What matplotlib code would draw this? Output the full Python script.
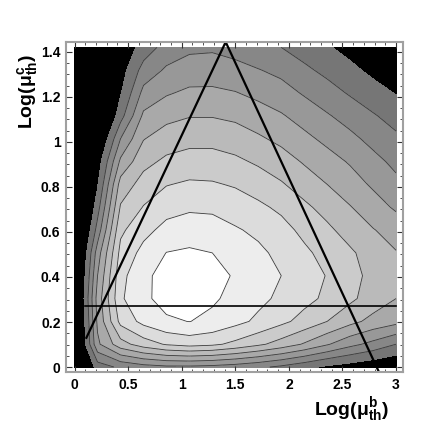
import matplotlib
matplotlib.use('Agg')
import matplotlib.pyplot as plt
import numpy as np
from matplotlib.ticker import MultipleLocator, FuncFormatter

plt.rcParams['font.family'] = ['Liberation Sans', 'DejaVu Sans']
plt.rcParams['mathtext.fontset'] = 'custom'
plt.rcParams['mathtext.rm'] = 'Liberation Sans:bold'
plt.rcParams['mathtext.it'] = 'Liberation Sans:bold'
plt.rcParams['mathtext.bf'] = 'Liberation Sans:bold'

# sampling grid (15 x 15, like the original contour plot)
log_mub = np.linspace(0, 3, 15)
log_muc = np.linspace(0, 1.42, 15)

# contour level index, one row per Log(mu_c) value
level_grid = np.array([
    [-3.0, 0.5, 1.2, 1.6, 1.8, 1.8, 1.7, 1.5, 1.2, 0.8, 0.3, -0.2, -0.5, -0.8, -1.1],
    [-2.5, 2.8, 4.6, 5.5, 6.1, 6.37, 6.2, 5.75, 5.2, 4.6, 3.9, 3.1, 2.3, 1.7, 1.0],
    [-2.6, 3.2, 6.3, 7.3, 7.85, 8.02, 7.75, 7.3, 6.8, 6.25, 5.65, 5.0, 4.3, 3.7, 3.3],
    [-2.35, 3.4, 6.85, 7.8, 8.35, 8.5, 8.15, 7.7, 7.25, 6.8, 6.3, 5.8, 5.2, 4.55, 4.0],
    [-2.5, 3.0, 6.7, 7.75, 8.4, 8.5, 8.35, 7.9, 7.45, 7.0, 6.5, 5.95, 5.35, 4.7, 4.15],
    [-2.7, 2.5, 6.3, 7.3, 8.02, 8.15, 8.0, 7.55, 7.2, 6.75, 6.2, 5.65, 5.15, 4.55, 4.05],
    [-3.0, 1.4, 5.8, 6.7, 7.3, 7.5, 7.45, 7.1, 6.8, 6.35, 5.75, 5.2, 4.6, 4.05, 3.6],
    [-3.5, 0.6, 5.1, 6.05, 6.65, 6.85, 6.8, 6.55, 6.2, 5.8, 5.2, 4.65, 4.05, 3.45, 2.85],
    [-4.0, -0.1, 4.4, 5.4, 5.95, 6.15, 6.1, 5.9, 5.55, 5.1, 4.55, 4.0, 3.45, 2.85, 2.25],
    [-4.5, -0.6, 3.2, 4.7, 5.2, 5.4, 5.4, 5.2, 4.85, 4.45, 3.9, 3.4, 2.9, 2.3, 1.75],
    [-5.0, -1.5, 2.0, 3.95, 4.5, 4.7, 4.7, 4.5, 4.15, 3.75, 3.25, 2.75, 2.25, 1.7, 1.2],
    [-5.5, -2.4, 0.6, 3.2, 3.7, 3.95, 3.95, 3.8, 3.45, 3.1, 2.6, 2.1, 1.6, 1.1, 0.6],
    [-6.0, -3.0, -0.1, 2.3, 2.9, 3.2, 3.2, 3.05, 2.75, 2.4, 1.9, 1.4, 0.9, 0.4, -0.05],
    [-6.5, -3.6, -0.5, 1.4, 2.15, 2.45, 2.5, 2.35, 2.05, 1.75, 1.2, 0.75, 0.25, -0.25, -0.7],
    [-7.0, -4.0, -0.83, 0.43, 1.4, 1.8, 1.85, 1.6, 1.3, 1.0, 0.57, 0.11, -0.35, -0.85, -1.35],
])

contour_levels = [1, 2, 3, 4, 5, 6, 7, 8]
band_grays = ['#767676', '#878787', '#989898', '#a9a9a9', '#bababa',
              '#cbcbcb', '#dcdcdc', '#ededed', '#ffffff']

# triangle and horizontal cut
left_leg_x = [0.11, 1.41]
left_leg_y = [0.13, 1.444]
right_leg_x = [1.41, 2.84]
right_leg_y = [1.444, -0.022]
cut_x = [0.10, 3.0]
cut_y = [0.27, 0.27]

X, Y = np.meshgrid(log_mub, log_muc)

fig = plt.figure(figsize=(4.36, 4.36), dpi=100)
ax = fig.add_axes([0.1514, 0.1468, 0.773, 0.7569])

ax.contourf(X, Y, level_grid, levels=[-100, 0], colors=['black'])
ax.contourf(X, Y, level_grid, levels=[0] + contour_levels + [100], colors=band_grays)
ax.contour(X, Y, level_grid, levels=contour_levels, colors='#3a3a3a', linewidths=0.6)

ax.plot(left_leg_x, left_leg_y, color='black', lw=1.6)
ax.plot(right_leg_x, right_leg_y, color='black', lw=1.6)
ax.plot(cut_x, cut_y, color='black', lw=1.2)

ax.set_xlim(-0.08, 3.065)
ax.set_ylim(-0.022, 1.444)

fmt = FuncFormatter(lambda v, p: ('%g' % round(v, 2)))
ax.xaxis.set_major_locator(MultipleLocator(0.5))
ax.xaxis.set_minor_locator(MultipleLocator(0.1))
ax.yaxis.set_major_locator(MultipleLocator(0.2))
ax.yaxis.set_minor_locator(MultipleLocator(0.05))
ax.xaxis.set_major_formatter(fmt)
ax.yaxis.set_major_formatter(fmt)
ax.tick_params(which='both', direction='in', top=True, right=True, color='#333333')
ax.tick_params(which='major', length=4, width=0.8, labelsize=10, pad=4)
ax.tick_params(which='minor', length=2, width=0.6)
for lab in ax.get_xticklabels() + ax.get_yticklabels():
    lab.set_fontweight('bold')
for sp in ax.spines.values():
    sp.set_color('#a0a0a0')
    sp.set_linewidth(1.5)

fig.text(27 / 436, 1 - 91 / 436, r'$\mathrm{Log(\mu^{c}_{th})}$', rotation=90,
         ha='center', va='center', fontsize=14)
fig.text(352 / 436, 1 - 410 / 436, r'$\mathrm{Log(\mu^{b}_{th})}$',
         ha='center', va='center', fontsize=14)

fig.savefig('out.png', dpi=100)
